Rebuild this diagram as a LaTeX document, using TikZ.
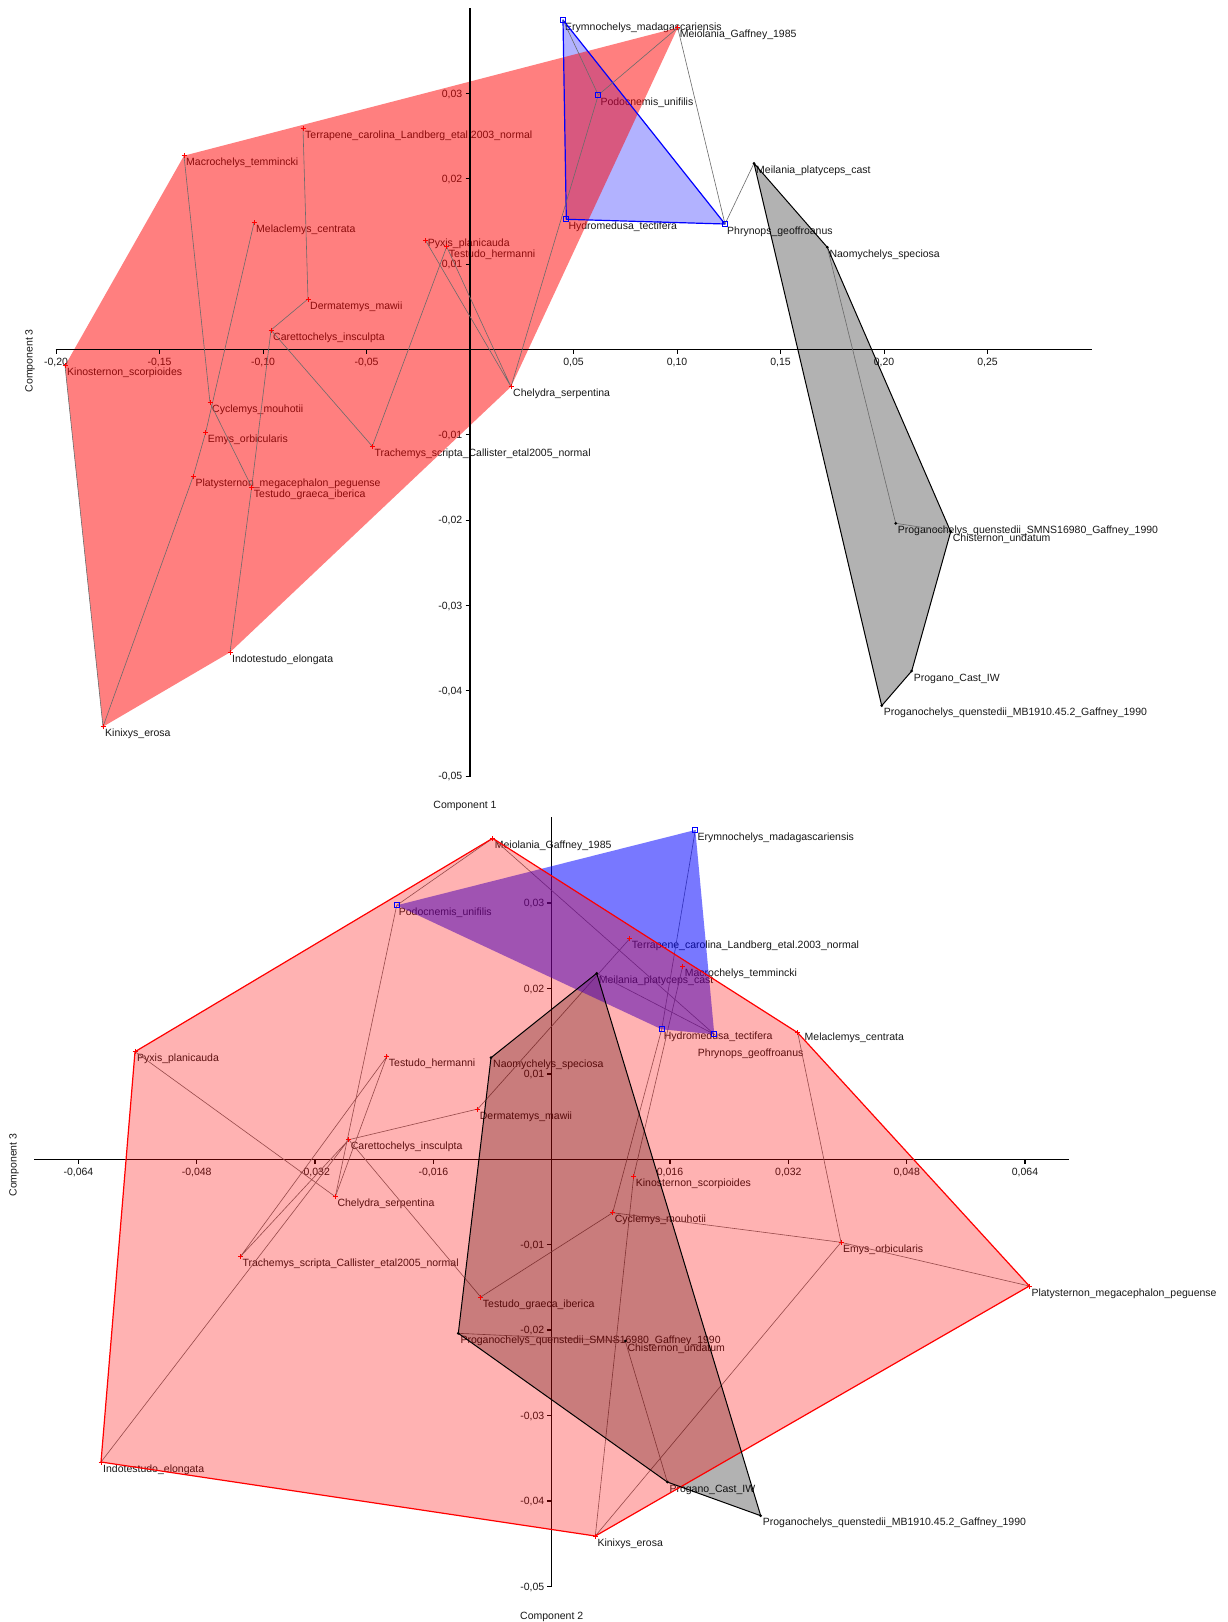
\documentclass[tikz,border=0pt]{standalone}
\usepackage{fontspec}
\setmainfont{Liberation Sans}
\newcommand\rplus[1]{\draw[red,line width=0.8pt] ([xshift=-2.5pt]#1) -- ([xshift=2.5pt]#1) ([yshift=-2.5pt]#1) -- ([yshift=2.5pt]#1);}
\newcommand\bsq[1]{\draw[blue,line width=0.7pt] ([shift={(-2.5pt,-2.5pt)}]#1) rectangle ([shift={(2.5pt,2.5pt)}]#1);}
\newcommand\kdot[1]{\fill[black] (#1) circle (1.5pt);}
\newcommand\slab[2]{\node[lab] (L#1) at ([shift={(2pt,-10pt)}]#1) {#2};}
\begin{document}
\begin{tikzpicture}[x=1pt,y=-1pt,
 lab/.style={anchor=base west,inner sep=0pt,font=\fontsize{10.5}{12}\selectfont,text=black!90},
 tl/.style={inner sep=0pt,font=\fontsize{10.5}{12}\selectfont,text=black!90},
 tree/.style={draw=black!58,line width=0.6pt}]
\useasboundingbox[fill=white] (0,0) rectangle (1228,1622);

%================ TOP PLOT =================
\coordinate (aMac) at (184,155.7);
\coordinate (aTer) at (303,128.3);
\coordinate (aMel) at (254,222.7);
\coordinate (aDer) at (308,299);
\coordinate (aCar) at (271,330);
\coordinate (aKin) at (65,365.7);
\coordinate (aCyc) at (210,402.7);
\coordinate (aEmy) at (205.7,432.3);
\coordinate (aPla) at (193.3,476);
\coordinate (aTgr) at (251.7,487);
\coordinate (aTra) at (372.3,446.3);
\coordinate (aInd) at (230,652.3);
\coordinate (aKix) at (103,726.7);
\coordinate (aPyx) at (425.7,240.7);
\coordinate (aThe) at (446.7,246.7);
\coordinate (aChe) at (511,386.7);
\coordinate (aMeo) at (677.7,27.7);
\coordinate (aEry) at (563,20);
\coordinate (aPod) at (598.3,95);
\coordinate (aHyd) at (566.3,219.3);
\coordinate (aPhr) at (725,224);
\coordinate (aMei) at (754,163.3);
\coordinate (aNao) at (827.3,247.3);
\coordinate (aSMN) at (895.7,523.3);
\coordinate (aChi) at (950.7,531.7);
\coordinate (aPCI) at (911.7,671);
\coordinate (aPMB) at (881.7,705.7);

% tick labels (under fills)
\foreach \x/\b in {56/20,159.5/15,263/10,366.5/05} {\node[tl,anchor=base] at (\x,365) {-0,\b};}
\foreach \x/\b in {573.5/05,677/10,780.5/15,884/20,987.5/25} {\node[tl,anchor=base] at (\x,365) {0,\b};}
\foreach \y/\b in {93.3/03,178.7/02,264/01} {\node[tl,anchor=base east] at (462.5,\y+3.8) {0,\b};}
\foreach \y/\b in {434.6/01,520/02,605.3/03,690.6/04,776/05} {\node[tl,anchor=base east] at (462.5,\y+3.8) {-0,\b};}
\node[tl,rotate=90] (ttl3a) at (30,360.7) {Component 3};
\node[tl] (ttl1) at (465,805.7) {Component 1};

% labels
\slab{aMac}{Macrochelys\_temmincki}
\slab{aTer}{Terrapene\_carolina\_Landberg\_etal.2003\_normal}
\slab{aMel}{Melaclemys\_centrata}
\slab{aDer}{Dermatemys\_mawii}
\slab{aCar}{Carettochelys\_insculpta}
\slab{aKin}{Kinosternon\_scorpioides}
\slab{aCyc}{Cyclemys\_mouhotii}
\slab{aEmy}{Emys\_orbicularis}
\slab{aPla}{Platysternon\_megacephalon\_peguense}
\slab{aTgr}{Testudo\_graeca\_iberica}
\slab{aTra}{Trachemys\_scripta\_Callister\_etal2005\_normal}
\slab{aInd}{Indotestudo\_elongata}
\slab{aKix}{Kinixys\_erosa}
\node[lab] (LaPyx) at (427.7,246.4) {Pyxis\_planicauda};
\node[lab] (LaThe) at (448.7,257.5) {Testudo\_hermanni};
\slab{aChe}{Chelydra\_serpentina}
\slab{aMeo}{Meiolania\_Gaffney\_1985}
\slab{aEry}{Erymnochelys\_madagascariensis}
\slab{aPod}{Podocnemis\_unifilis}
\slab{aHyd}{Hydromedusa\_tectifera}
\slab{aPhr}{Phrynops\_geoffroanus}
\slab{aMei}{Meilania\_platyceps\_cast}
\slab{aNao}{Naomychelys\_speciosa}
\slab{aSMN}{Proganochelys\_quenstedii\_SMNS16980\_Gaffney\_1990}
\slab{aChi}{Chisternon\_undatum}
\slab{aPCI}{Progano\_Cast\_IW}
\slab{aPMB}{Proganochelys\_quenstedii\_MB1910.45.2\_Gaffney\_1990}

% hull fills
\fill[black,fill opacity=0.3] (aMei) -- (aNao) -- (aChi) -- (aPCI) -- (aPMB) -- cycle;
\fill[blue,fill opacity=0.3] (aEry) -- (aPhr) -- (aHyd) -- cycle;
\fill[red,fill opacity=0.5] (aKin) -- (aMac) -- (aMeo) -- (aChe) -- (aInd) -- (aKix) -- cycle;
% hull strokes
\draw[black,line width=1pt,line join=round] (aMei) -- (aNao) -- (aChi) -- (aPCI) -- (aPMB) -- cycle;
\draw[blue,line width=1.2pt,line join=round] (aEry) -- (aPhr) -- (aHyd) -- cycle;

% axes
\draw[line width=1.2pt] (55.7,349.3) -- (1091.7,349.3);
\draw[line width=2pt] (470,8) -- (470,776.7);
\foreach \x in {56,159.5,263,366.5,573.5,677,780.5,884,987.5} {\draw[line width=1pt] (\x,349.3) -- (\x,354);}
\foreach \y in {93.3,178.7,264,434.6,520,605.3,690.6,776} {\draw[line width=1pt] (465.5,\y) -- (470,\y);}

% tree
\draw[tree] (aMac) -- (aCyc) -- (aTgr);
\draw[tree] (aMel) -- (aEmy) -- (aPla) -- (aKix) -- (aKin);
\draw[tree] (aTer) -- (aDer) -- (aCar) -- (aTgr) -- (aInd);
\draw[tree] (aCar) -- (aTra) -- (aThe) -- (aChe) -- (aPyx);
\draw[tree] (aChe) -- (aPod) -- (aMeo) -- (aPhr) -- (aMei);
\draw[tree] (aPod) -- (aEry);
\draw[tree] (aNao) -- (aSMN) -- (aChi);

% markers
\foreach \p in {aMac,aTer,aMel,aDer,aCar,aKin,aCyc,aEmy,aPla,aTgr,aTra,aInd,aKix,aPyx,aThe,aChe,aMeo} {\rplus{\p}}
\foreach \p in {aEry,aPod,aHyd,aPhr} {\bsq{\p}}
\foreach \p in {aMei,aNao,aSMN,aChi,aPCI,aPMB} {\kdot{\p}}

%================ BOTTOM PLOT =================
\coordinate (bMeo) at (492.7,838.3);
\coordinate (bEry) at (695.3,830);
\coordinate (bPod) at (396.7,905.3);
\coordinate (bPyx) at (135,1051.7);
\coordinate (bThe) at (386.7,1056.7);
\coordinate (bCar) at (348.7,1139.7);
\coordinate (bChe) at (335.3,1196.7);
\coordinate (bTer) at (629.7,938.7);
\coordinate (bMac) at (682.7,966);
\coordinate (bMei) at (596.7,973.3);
\coordinate (bHyd) at (661.7,1029.3);
\coordinate (bPhr) at (714.3,1034.3);
\coordinate (bMel) at (797.7,1032.7);
\coordinate (bNao) at (491,1057.7);
\coordinate (bDer) at (477.7,1109);
\coordinate (bKin) at (633.7,1176);
\coordinate (bCyc) at (612.7,1212.7);
\coordinate (bTra) at (240.3,1256.7);
\coordinate (bInd) at (101,1462);
\coordinate (bTgr) at (480.7,1297);
\coordinate (bSMN) at (458.3,1333.3);
\coordinate (bChi) at (625.3,1341);
\coordinate (bPCI) at (667.3,1482);
\coordinate (bPMB) at (760.7,1515.7);
\coordinate (bKix) at (595.3,1536);
\coordinate (bEmy) at (841,1242.3);
\coordinate (bPla) at (1029.3,1286);

% axes (under fills)
\draw[line width=1pt] (34,1159.3) -- (1069.3,1159.3);
\draw[line width=1pt] (551.7,817.3) -- (551.7,1586.7);
\foreach \x/\b in {78.4/064,196.7/048,315/032,433.4/016} {\node[tl,anchor=base] at (\x,1175.5) {-0,\b}; \draw[line width=1.4pt] (\x,1159.3) -- (\x,1164);}
\foreach \x/\b in {670/016,788.3/032,906.7/048,1025/064} {\node[tl,anchor=base] at (\x,1175.5) {0,\b}; \draw[line width=1.4pt] (\x,1159.3) -- (\x,1164);}
\foreach \y/\b in {903.1/03,988.5/02,1073.9/01} {\node[tl,anchor=base east] at (544.5,\y+3.8) {0,\b}; \draw[line width=1.4pt] (547,\y) -- (551.7,\y);}
\foreach \y/\b in {1244.7/01,1330.1/02,1415.5/03,1500.9/04,1586.3/05} {\node[tl,anchor=base east] at (544.5,\y+3.8) {-0,\b}; \draw[line width=1.4pt] (547,\y) -- (551.7,\y);}
\node[tl,rotate=90] (ttl3b) at (14,1165) {Component 3};
\node[tl] (ttl2) at (551.7,1616.7) {Component 2};

% labels
\slab{bMeo}{Meiolania\_Gaffney\_1985}
\slab{bEry}{Erymnochelys\_madagascariensis}
\slab{bPod}{Podocnemis\_unifilis}
\slab{bPyx}{Pyxis\_planicauda}
\slab{bThe}{Testudo\_hermanni}
\slab{bCar}{Carettochelys\_insculpta}
\slab{bChe}{Chelydra\_serpentina}
\slab{bTer}{Terrapene\_carolina\_Landberg\_etal.2003\_normal}
\slab{bMac}{Macrochelys\_temmincki}
\slab{bMei}{Meilania\_platyceps\_cast}
\slab{bHyd}{Hydromedusa\_tectifera}
\node[lab] (LbPhr) at (697.7,1056.4) {Phrynops\_geoffroanus};
\node[lab] (LbMel) at (804.5,1040.5) {Melaclemys\_centrata};
\slab{bNao}{Naomychelys\_speciosa}
\slab{bDer}{Dermatemys\_mawii}
\slab{bKin}{Kinosternon\_scorpioides}
\slab{bCyc}{Cyclemys\_mouhotii}
\slab{bTra}{Trachemys\_scripta\_Callister\_etal2005\_normal}
\slab{bInd}{Indotestudo\_elongata}
\slab{bTgr}{Testudo\_graeca\_iberica}
\slab{bSMN}{Proganochelys\_quenstedii\_SMNS16980\_Gaffney\_1990}
\slab{bChi}{Chisternon\_undatum}
\slab{bPCI}{Progano\_Cast\_IW}
\slab{bPMB}{Proganochelys\_quenstedii\_MB1910.45.2\_Gaffney\_1990}
\slab{bKix}{Kinixys\_erosa}
\slab{bEmy}{Emys\_orbicularis}
\slab{bPla}{Platysternon\_megacephalon\_peguense}

% tree (under fills)
\draw[tree] (bPyx) -- (bChe) -- (bPod) -- (bMeo) -- (bPhr) -- (bMei);
\draw[tree] (bChe) -- (bThe) -- (bTra) -- (bCar) -- (bInd);
\draw[tree] (bCar) -- (bDer) -- (bTer);
\draw[tree] (bCar) -- (bTgr) -- (bCyc) -- (bHyd) -- (bEry);
\draw[tree] (bMac) -- (bKin) -- (bKix) -- (bEmy) -- (bPla);
\draw[tree] (bCyc) -- (bEmy) -- (bMel);
\draw[tree] (bSMN) -- (bChi) -- (bPCI);

% hull fills
\fill[black,fill opacity=0.3] (bMei) -- (bPMB) -- (bPCI) -- (bSMN) -- (bNao) -- cycle;
\fill[blue,fill opacity=0.53] (bEry) -- (bPhr) -- (bHyd) -- (bPod) -- cycle;
\fill[red,fill opacity=0.3] (bMeo) -- (bMel) -- (bPla) -- (bKix) -- (bInd) -- (bPyx) -- cycle;
% hull strokes
\draw[red,line width=1.2pt,line join=round] (bMeo) -- (bMel) -- (bPla) -- (bKix) -- (bInd) -- (bPyx) -- cycle;
\draw[black,line width=1pt,line join=round] (bMei) -- (bPMB) -- (bPCI) -- (bSMN) -- (bNao) -- cycle;

% markers
\foreach \p in {bMeo,bPyx,bThe,bCar,bChe,bTer,bMac,bMel,bDer,bKin,bCyc,bTra,bInd,bTgr,bKix,bEmy,bPla} {\rplus{\p}}
\foreach \p in {bEry,bPod,bHyd,bPhr} {\bsq{\p}}
\foreach \p in {bMei,bNao,bSMN,bChi,bPCI,bPMB} {\kdot{\p}}
\end{tikzpicture}
\end{document}
